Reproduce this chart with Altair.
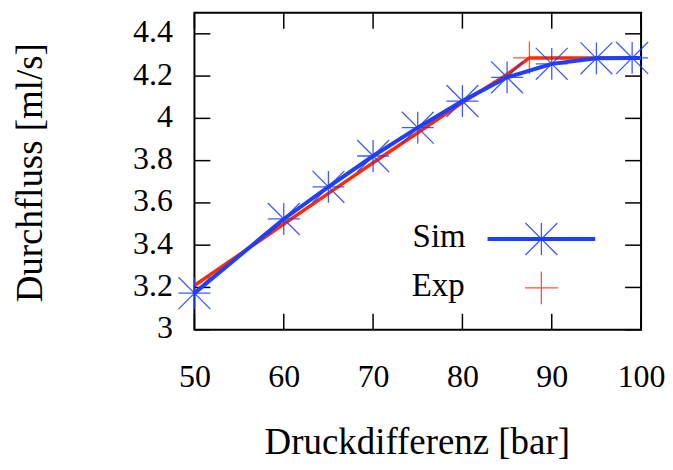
import altair as alt
import pandas as pd

# ---- data ----
sim_x = [50, 60, 65, 70, 75, 80, 85, 90, 95, 99, 100]
sim_y = [3.173, 3.524, 3.676, 3.822, 3.956, 4.082, 4.194, 4.258, 4.284, 4.286, 4.286]
exp_x = [50, 60, 65, 70, 75, 80, 85, 87.5, 100]
exp_y = [3.209, 3.500, 3.645, 3.790, 3.932, 4.075, 4.208, 4.286, 4.286]
x_ticks = [50, 60, 70, 80, 90, 100]
y_ticks = [3.0, 3.2, 3.4, 3.6, 3.8, 4.0, 4.2, 4.4]
series = ["Sim", "Exp"]

BLUE = "#1f3fff"
RED = "#ff2a00"
FONT = "Liberation Serif"
W, H = 448, 318
TL = 16

STAR = "M-1,0L1,0M0,-1L0,1M-1,-1L1,1M-1,1L1,-1"
PLUS = "M-1,0L1,0M0,-1L0,1"

sim = pd.DataFrame({"x": sim_x, "y": sim_y})
exp = pd.DataFrame({"x": exp_x, "y": exp_y})
xt = pd.DataFrame({"x": x_ticks})
yt = pd.DataFrame({"y": y_ticks})

xs = alt.Scale(domain=[50, 100], nice=False, zero=False)
ys = alt.Scale(domain=[3, 4.5], nice=False, zero=False)

X = alt.X("x:Q", scale=xs, axis=alt.Axis(values=x_ticks, title="Druckdifferenz [bar]",
                                         labelPadding=32, labelFlush=False,
                                         titleX=223, titleY=124,
                                         titleAlign="center", titleBaseline="alphabetic"))
Y = alt.Y("y:Q", scale=ys, axis=alt.Axis(values=y_ticks, title="Durchfluss [ml/s]", format="~r",
                                         labelPadding=22, labelOffset=-2, labelFlush=False,
                                         titleX=-164, titleY=160, titleAngle=270,
                                         titleAlign="center", titleBaseline="middle"))

tick_style = dict(color="black", strokeWidth=1.5)
xb = alt.Chart(xt).mark_rule(**tick_style).encode(x=X, y=alt.value(H), y2=alt.value(H - TL))
xtop = alt.Chart(xt).mark_rule(**tick_style).encode(x=X, y=alt.value(0), y2=alt.value(TL))
yl = alt.Chart(yt).mark_rule(**tick_style).encode(y=Y, x=alt.value(0), x2=alt.value(TL))
yr = alt.Chart(yt).mark_rule(**tick_style).encode(y=Y, x=alt.value(W), x2=alt.value(W - TL))

exp_line = alt.Chart(exp).mark_line(color=RED, strokeWidth=3.5).encode(x=X, y=Y)
exp_pts = alt.Chart(exp).transform_filter("datum.x > 86 && datum.x < 100").mark_point(
    shape=PLUS, size=1089, filled=False, stroke=RED, strokeWidth=1.3, opacity=0.8
).encode(x=X, y=Y)
sim_line = alt.Chart(sim).mark_line(color=BLUE, strokeWidth=4).encode(x=X, y=Y)
sim_pts = alt.Chart(sim).transform_filter("datum.x < 100").mark_point(
    shape=STAR, size=1024, filled=False, stroke=BLUE, strokeWidth=1.3, opacity=0.85
).encode(x=X, y=Y)

# manual key
leg = pd.DataFrame({"s": [0]})
t_sim = alt.Chart(leg).mark_text(align="right", baseline="alphabetic", font=FONT, fontSize=33, color="black").encode(
    x=alt.value(272), y=alt.value(235), text=alt.value(series[0]))
t_exp = alt.Chart(leg).mark_text(align="right", baseline="alphabetic", font=FONT, fontSize=33, color="black").encode(
    x=alt.value(271), y=alt.value(284), text=alt.value(series[1]))
l_sim = alt.Chart(leg).mark_rule(color=BLUE, strokeWidth=4).encode(
    x=alt.value(294), x2=alt.value(402), y=alt.value(227))
p_sim = alt.Chart(leg).mark_point(shape=STAR, size=1024, filled=False, stroke=BLUE, strokeWidth=1.3, opacity=0.85).encode(
    x=alt.value(348), y=alt.value(227))
p_exp = alt.Chart(leg).mark_point(shape=PLUS, size=1089, filled=False, stroke=RED, strokeWidth=1.3, opacity=0.8).encode(
    x=alt.value(348), y=alt.value(276))

chart = alt.layer(
    exp_line, xb, xtop, yl, yr, exp_pts, sim_line, sim_pts, t_sim, t_exp, l_sim, p_sim, p_exp
).properties(
    width=W, height=H,
    autosize=alt.AutoSizeParams(type="none"),
    padding={"left": 187, "top": 4, "right": 24, "bottom": 138},
).configure_view(
    stroke="black", strokeWidth=2
).configure_axis(
    grid=False, domain=False, ticks=False,
    labelFont=FONT, labelFontSize=32, labelColor="black",
    titleFont=FONT, titleFontSize=37, titleFontWeight="normal", titleColor="black",
)

chart.save("out.html", embed_options={"renderer": "svg", "actions": False})
